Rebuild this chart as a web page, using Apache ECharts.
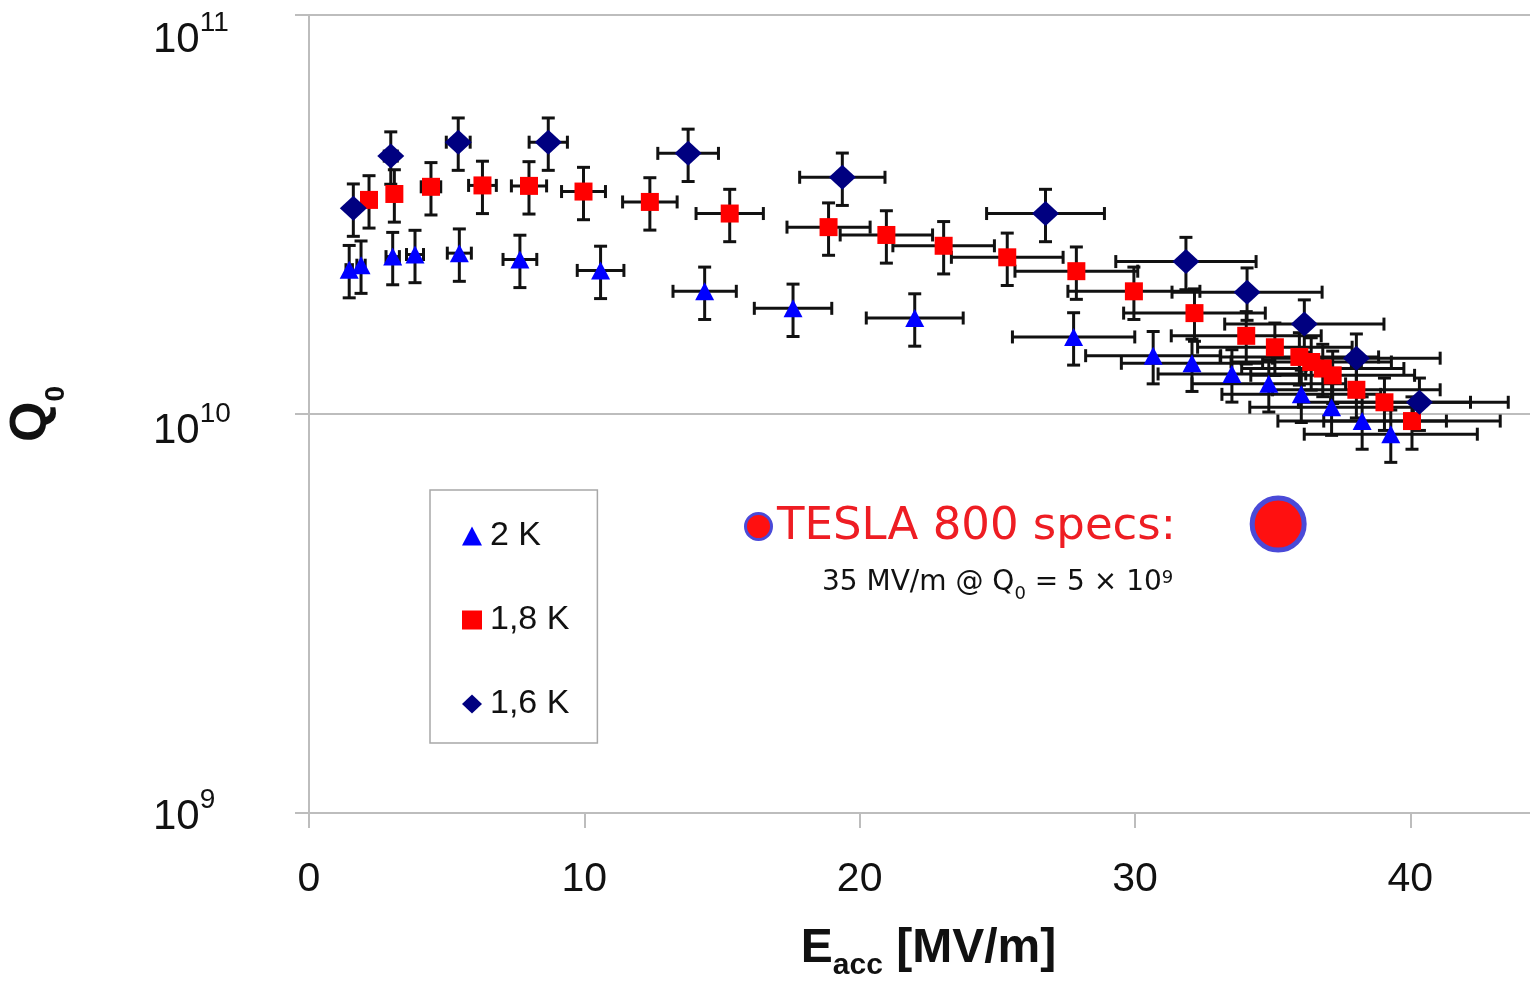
<!DOCTYPE html>
<html><head><meta charset="utf-8">
<script src="https://cdn.jsdelivr.net/npm/echarts@6/dist/echarts.min.js"></script>
<style>html,body{margin:0;padding:0;background:#fff}#c{width:1530px;height:981px}</style>
</head><body><div id="c"></div>
<script>
// ---- data ----
const xTicks = [0, 10, 20, 30, 40];
const qTickExponents = [9, 10, 11];

const e2K = [1.46, 1.89, 3.04, 3.85, 5.46, 7.66, 10.59, 14.37, 17.58, 22.0, 27.77, 30.66, 32.07, 33.52, 34.86, 36.04, 37.14, 38.25, 39.29];
const q2K = [2.30e10, 2.36e10, 2.48e10, 2.51e10, 2.53e10, 2.44e10, 2.29e10, 2.03e10, 1.84e10, 1.74e10, 1.56e10, 1.40e10, 1.34e10, 1.26e10, 1.19e10, 1.12e10, 1.04e10, 9.6e9, 8.9e9];

const e18K = [2.18, 3.10, 4.43, 6.30, 7.99, 9.97, 12.38, 15.28, 18.87, 20.97, 23.05, 25.36, 27.87, 29.96, 32.16, 34.04, 35.08, 35.97, 36.40, 36.82, 37.18, 38.04, 39.06, 40.06];
const q18K = [3.44e10, 3.56e10, 3.71e10, 3.74e10, 3.73e10, 3.61e10, 3.40e10, 3.18e10, 2.94e10, 2.81e10, 2.64e10, 2.47e10, 2.28e10, 2.03e10, 1.79e10, 1.57e10, 1.47e10, 1.39e10, 1.35e10, 1.30e10, 1.25e10, 1.15e10, 1.07e10, 9.6e9];

const e16K = [1.61, 2.97, 5.42, 8.69, 13.77, 19.37, 26.75, 31.85, 34.07, 36.15, 38.04, 40.33];
const q16K = [3.28e10, 4.43e10, 4.80e10, 4.80e10, 4.50e10, 3.92e10, 3.18e10, 2.41e10, 2.02e10, 1.68e10, 1.38e10, 1.07e10];

const teslaE = [35.2];
const teslaQ = [5.3e9];

// relative error bars (fraction of value)
const E_ERR = 0.08;
const Q_ERR = 0.15;

const seriesNames = ['2 K', '1,8 K', '1,6 K'];
// ---------------------------------------

const FONT = '"Liberation Sans", Arial, sans-serif';
const zip = (a, b) => a.map((v, i) => [v, b[i]]);

function errRender(params, api) {
  const x = api.value(0), y = api.value(1);
  const c = api.coord([x, y]);
  const xl = api.coord([x * (1 - E_ERR), y])[0];
  const xh = api.coord([x * (1 + E_ERR), y])[0];
  const yl = api.coord([x, y * (1 - Q_ERR)])[1];
  const yh = api.coord([x, y * (1 + Q_ERR)])[1];
  const cap = 6.5;
  const st = { stroke: '#111', lineWidth: 3 };
  const L = (x1, y1, x2, y2) => ({ type: 'line', shape: { x1, y1, x2, y2 }, style: st });
  return {
    type: 'group',
    children: [
      L(xl, c[1], xh, c[1]),
      L(c[0], yl, c[0], yh),
      L(xl, c[1] - cap, xl, c[1] + cap),
      L(xh, c[1] - cap, xh, c[1] + cap),
      L(c[0] - cap, yl, c[0] + cap, yl),
      L(c[0] - cap, yh, c[0] + cap, yh)
    ]
  };
}

const errSeries = (name, e, q) => ({
  name: name, type: 'custom', renderItem: errRender, data: zip(e, q),
  encode: { x: 0, y: 1 }, z: 2, silent: true, clip: false
});

// per-label vertical offsets of the y tick labels (as in the reference)
const labelPad = { 9: 8, 10: 34, 11: 50 };
const yRich = {};
qTickExponents.forEach(e => {
  yRich['b' + e] = { fontSize: 42, color: '#111', fontFamily: FONT, padding: [labelPad[e], 0, 0, 0] };
  yRich['s' + e] = { fontSize: 28, color: '#111', fontFamily: FONT, verticalAlign: 'top', padding: [labelPad[e] - 10, 0, 0, 0] };
});

const chart = echarts.init(document.getElementById('c'), null, { renderer: 'canvas' });
chart.setOption({
  animation: false,
  backgroundColor: '#fff',
  grid: { left: 309, top: 15, right: -18, bottom: 168, containLabel: false, outerBoundsMode: 'none' },
  legend: {
    orient: 'vertical', left: 430, top: 490,
    padding: [29, 28, 22, 32], itemGap: 50,
    itemWidth: 20, itemHeight: 19,
    borderColor: '#a8a8a8', borderWidth: 1.5,
    textStyle: { fontSize: 34, color: '#111', fontFamily: FONT, padding: [0, 0, 0, 3] },
    data: [
      { name: seriesNames[0], icon: 'triangle' },
      { name: seriesNames[1], icon: 'rect' },
      { name: seriesNames[2], icon: 'diamond' }
    ]
  },
  xAxis: {
    type: 'value', min: 0, max: 45, interval: 10,
    axisLine: { onZero: false, lineStyle: { color: '#bdbdbd', width: 2 } },
    axisTick: { show: true, length: 15, lineStyle: { color: '#bdbdbd', width: 2 } },
    splitLine: { show: false },
    axisLabel: {
      margin: 46, fontSize: 41, color: '#111', fontFamily: FONT,
      formatter: v => (xTicks.indexOf(v) >= 0 ? String(v) : '')
    },
    name: '{e|E}{s|acc}{e| [MV/m]}',
    nameLocation: 'middle', nameGap: 112,
    nameTextStyle: {
      rich: {
        e: { fontSize: 48, fontWeight: 'bold', color: '#111', fontFamily: FONT },
        s: { fontSize: 30, fontWeight: 'bold', color: '#111', fontFamily: FONT, verticalAlign: 'bottom', padding: [0, 0, -8, 0] }
      }
    }
  },
  yAxis: {
    type: 'log', logBase: 10, min: 1e9, max: 1e11, interval: 1,
    axisLine: { show: true, lineStyle: { color: '#bdbdbd', width: 2 } },
    axisTick: { show: true, length: 14, lineStyle: { color: '#bdbdbd', width: 2 } },
    splitLine: { show: true, lineStyle: { color: '#bdbdbd', width: 2 } },
    axisLabel: {
      margin: 156, align: 'left', color: '#111', fontFamily: FONT,
      formatter: v => {
        const e = Math.round(Math.log10(v));
        return qTickExponents.indexOf(e) >= 0 ? '{b' + e + '|10}{s' + e + '|' + e + '}' : '';
      },
      rich: yRich
    },
    name: '{q|Q}{s|0}',
    nameLocation: 'middle', nameGap: 251,
    nameTextStyle: {
      rich: {
        q: { fontSize: 52, fontWeight: 'bold', color: '#111', fontFamily: FONT },
        s: { fontSize: 28, fontWeight: 'bold', color: '#111', fontFamily: FONT, verticalAlign: 'bottom', padding: [0, 0, -12, 0] }
      }
    }
  },
  series: [
    errSeries('err2K', e2K, q2K),
    errSeries('err18K', e18K, q18K),
    errSeries('err16K', e16K, q16K),
    { name: seriesNames[0], type: 'scatter', data: zip(e2K, q2K), symbol: 'triangle', symbolSize: [19, 18],
      itemStyle: { color: '#0000ff', opacity: 1 }, z: 3 },
    { name: seriesNames[1], type: 'scatter', data: zip(e18K, q18K), symbol: 'rect', symbolSize: 18,
      itemStyle: { color: '#ff0000', opacity: 1 }, z: 3 },
    { name: seriesNames[2], type: 'scatter', data: zip(e16K, q16K), symbol: 'diamond', symbolSize: [27, 25],
      itemStyle: { color: '#000080', opacity: 1 }, z: 4 },
    { name: 'TESLA 800 spec', type: 'scatter', data: zip(teslaE, teslaQ), symbol: 'circle', symbolSize: 52,
      itemStyle: { color: '#ff1010', borderColor: '#4a4ad8', borderWidth: 5, opacity: 1 }, z: 5 }
  ],
  graphic: [
    { type: 'circle', left: 744, top: 512, shape: { r: 13 },
      style: { fill: '#ff1010', stroke: '#4a4ad8', lineWidth: 3 } },
    { type: 'text', left: 777, top: 505,
      style: { text: 'TESLA 800 specs:', fill: '#ee1d23', font: '45px "DejaVu Sans", sans-serif' } },
    { type: 'text', left: 822, top: 569,
      style: {
        text: '{a|35 MV/m @ Q}{b|0}{a| = 5 × 10}{c|9}',
        rich: {
          a: { fontSize: 28, fill: '#111', fontFamily: '"DejaVu Sans", sans-serif' },
          b: { fontSize: 18, fill: '#111', fontFamily: '"DejaVu Sans", sans-serif', verticalAlign: 'bottom', padding: [0, 0, -6, 0] },
          c: { fontSize: 18, fill: '#111', fontFamily: '"DejaVu Sans", sans-serif', verticalAlign: 'top', padding: [0, 0, 10, 0] }
        }
      } }
  ]
});
</script></body></html>
